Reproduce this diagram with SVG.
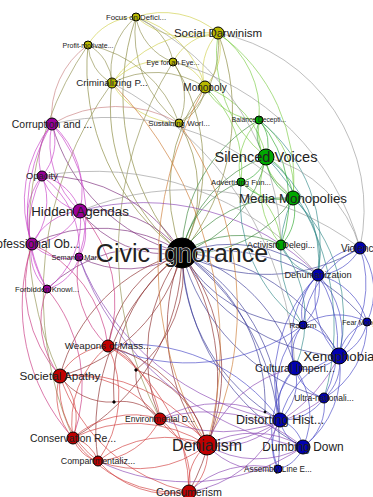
<svg xmlns="http://www.w3.org/2000/svg" width="373" height="497" viewBox="0 0 373 497">
<style>
#edges path{fill:none;stroke-width:.9;stroke-opacity:.72}
.y{stroke:#cfcf4a}.yo{stroke:#8f8f4f}.g{stroke:#7acc44}.gg{stroke:#2fa82f}.t{stroke:#338a8a}.b{stroke:#4646c6}.p{stroke:#8a46b4}.m{stroke:#c840c8}.mr{stroke:#c8337f}.r{stroke:#d03c3c}.dr{stroke:#973232}.gr{stroke:#9a9a9a}.or{stroke:#cc7a33}.pk{stroke:#c98080}
.hy{stroke:#87873a}.hg{stroke:#3a873a}.hb{stroke:#3a3a98}.hr{stroke:#8a2a2a}.hm{stroke:#7a2a7a}
circle{stroke:#000;stroke-width:1}
.cy{fill:#b8b800}.cm{fill:#990099}.cg{fill:#00a800}.cb{fill:#0000b0}.cr{fill:#c00000}.ck{fill:#000}
text{font-family:"Liberation Sans",Arial,sans-serif;fill:#222;text-anchor:middle}
</style>
<g id="edges">
<path class="hy" d="M182 253A240 240 0 0 1 136 17"/>
<path class="hy" d="M182 253A222 222 0 0 0 218 33"/>
<path class="hy" d="M182 253A228 228 0 0 1 88 45"/>
<path class="hy" d="M182 253A192 192 0 0 0 173 62"/>
<path class="hy" d="M182 253A184 184 0 0 1 112 83"/>
<path class="hy" d="M182 253A168 168 0 0 1 205 87"/>
<path class="hy" d="M182 253A130 130 0 0 0 179 123"/>
<path class="hm" d="M182 253A183 183 0 0 1 52 124"/>
<path class="hm" d="M182 253A160 160 0 0 0 42 176"/>
<path class="hm" d="M182 253A110 110 0 0 1 80 211"/>
<path class="hm" d="M80 211A110 110 0 0 1 182 253"/>
<path class="hm" d="M182 253A150 150 0 0 0 32 244"/>
<path class="hm" d="M182 253A103 103 0 0 1 79 257"/>
<path class="hm" d="M182 253A140 140 0 0 0 47 289"/>
<path class="hg" d="M182 253A154 154 0 0 1 259 120"/>
<path class="hg" d="M182 253A128 128 0 0 0 266 157"/>
<path class="hg" d="M266 157A128 128 0 0 0 182 253"/>
<path class="hg" d="M182 253A92 92 0 0 1 241 182"/>
<path class="hg" d="M182 253A124 124 0 0 0 293 198"/>
<path class="hg" d="M293 198A124 124 0 0 0 182 253"/>
<path class="hg" d="M182 253A99 99 0 0 1 281 245"/>
<path class="hb" d="M182 253A178 178 0 0 0 360 248"/>
<path class="hb" d="M182 253A139 139 0 0 1 318 275"/>
<path class="hb" d="M182 253A141 141 0 0 0 303 325"/>
<path class="hb" d="M182 253A197 197 0 0 1 367 322"/>
<path class="hb" d="M182 253A188 188 0 0 0 339 356"/>
<path class="hb" d="M339 356A188 188 0 0 0 182 253"/>
<path class="hb" d="M182 253A161 161 0 0 1 295 368"/>
<path class="hb" d="M182 253A203 203 0 0 0 324 398"/>
<path class="hb" d="M182 253A194 194 0 0 1 280 420"/>
<path class="hb" d="M280 420A194 194 0 0 1 182 253"/>
<path class="hb" d="M182 253A229 229 0 0 0 303 447"/>
<path class="hb" d="M182 253A236 236 0 0 1 278 469"/>
<path class="hb" d="M182 253A180 180 0 0 1 265 412"/>
<path class="hr" d="M182 253A119 119 0 0 0 108 346"/>
<path class="hr" d="M182 253A173 173 0 0 1 60 376"/>
<path class="hr" d="M60 376A173 173 0 0 1 182 253"/>
<path class="hr" d="M182 253A167 167 0 0 0 160 419"/>
<path class="hr" d="M182 253A215 215 0 0 1 73 438"/>
<path class="hr" d="M182 253A194 194 0 0 0 207 445"/>
<path class="hr" d="M182 253A194 194 0 0 1 207 445"/>
<path class="hr" d="M182 253A224 224 0 0 0 98 461"/>
<path class="hr" d="M182 253A239 239 0 0 1 189 492"/>
<path class="hr" d="M182 253A126 126 0 0 1 136 370"/>
<path class="hr" d="M182 253A164 164 0 0 0 114 402"/>
<path class="y" d="M136 17A84 84 0 0 1 218 33"/>
<path class="y" d="M218 33A84 84 0 0 1 136 17"/>
<path class="y" d="M136 17A56 56 0 0 0 88 45"/>
<path class="yo" d="M136 17A70 70 0 0 0 112 83"/>
<path class="yo" d="M136 17A58 58 0 0 1 173 62"/>
<path class="yo" d="M173 62A58 58 0 0 1 136 17"/>
<path class="y" d="M136 17A98 98 0 0 1 205 87"/>
<path class="yo" d="M136 17A114 114 0 0 0 179 123"/>
<path class="y" d="M218 33A54 54 0 0 0 173 62"/>
<path class="y" d="M218 33A56 56 0 0 1 205 87"/>
<path class="y" d="M205 87A56 56 0 0 1 218 33"/>
<path class="y" d="M218 33A117 117 0 0 0 112 83"/>
<path class="yo" d="M218 33A98 98 0 0 1 179 123"/>
<path class="yo" d="M88 45A45 45 0 0 1 112 83"/>
<path class="yo" d="M112 83A45 45 0 0 1 88 45"/>
<path class="yo" d="M88 45A120 120 0 0 1 179 123"/>
<path class="pk" d="M88 45A87 87 0 0 0 52 124"/>
<path class="y" d="M173 62A41 41 0 0 1 205 87"/>
<path class="y" d="M173 62A65 65 0 0 0 112 83"/>
<path class="yo" d="M173 62A61 61 0 0 1 179 123"/>
<path class="y" d="M112 83A78 78 0 0 0 179 123"/>
<path class="yo" d="M112 83A93 93 0 0 1 205 87"/>
<path class="yo" d="M205 87A44 44 0 0 1 179 123"/>
<path class="or" d="M112 83A374 374 0 0 1 207 445"/>
<path class="or" d="M179 123A323 323 0 0 1 207 445"/>
<path class="or" d="M205 87A358 358 0 0 0 207 445"/>
<path class="gr" d="M112 83A339 339 0 0 1 295 368"/>
<path class="gr" d="M173 62A264 264 0 0 1 360 248"/>
<path class="gr" d="M218 33A180 180 0 0 1 360 248"/>
<path class="g" d="M218 33A96 96 0 0 1 259 120"/>
<path class="g" d="M218 33A133 133 0 0 0 266 157"/>
<path class="g" d="M218 33A181 181 0 0 1 293 198"/>
<path class="g" d="M205 87A93 93 0 0 1 266 157"/>
<path class="g" d="M205 87A63 63 0 0 0 259 120"/>
<path class="g" d="M205 87A110 110 0 0 1 241 182"/>
<path class="pk" d="M52 124A127 127 0 0 1 179 123"/>
<path class="yo" d="M112 83A360 360 0 0 0 73 438"/>
<path class="yo" d="M173 62A357 357 0 0 0 160 419"/>
<path class="yo" d="M88 45A335 335 0 0 0 60 376"/>
<path class="gr" d="M136 17A260 260 0 0 1 281 245"/>
<path class="m" d="M52 124A53 53 0 0 1 42 176"/>
<path class="m" d="M42 176A53 53 0 0 1 52 124"/>
<path class="m" d="M52 124A91 91 0 0 1 80 211"/>
<path class="m" d="M80 211A91 91 0 0 1 52 124"/>
<path class="m" d="M52 124A122 122 0 0 0 32 244"/>
<path class="m" d="M52 124A136 136 0 0 1 79 257"/>
<path class="m" d="M52 124A165 165 0 0 0 47 289"/>
<path class="m" d="M42 176A52 52 0 0 1 80 211"/>
<path class="m" d="M80 211A52 52 0 0 1 42 176"/>
<path class="m" d="M42 176A69 69 0 0 0 32 244"/>
<path class="m" d="M32 244A69 69 0 0 0 42 176"/>
<path class="m" d="M42 176A89 89 0 0 1 79 257"/>
<path class="m" d="M42 176A113 113 0 0 0 47 289"/>
<path class="m" d="M80 211A58 58 0 0 1 32 244"/>
<path class="m" d="M32 244A58 58 0 0 1 80 211"/>
<path class="m" d="M80 211A46 46 0 0 1 79 257"/>
<path class="m" d="M80 211A85 85 0 0 1 47 289"/>
<path class="m" d="M32 244A49 49 0 0 0 79 257"/>
<path class="m" d="M32 244A47 47 0 0 0 47 289"/>
<path class="m" d="M79 257A45 45 0 0 1 47 289"/>
<path class="mr" d="M32 244A135 135 0 0 0 60 376"/>
<path class="mr" d="M32 244A198 198 0 0 0 73 438"/>
<path class="mr" d="M47 289A151 151 0 0 1 73 438"/>
<path class="mr" d="M80 211A138 138 0 0 1 108 346"/>
<path class="mr" d="M79 257A95 95 0 0 0 108 346"/>
<path class="mr" d="M32 244A128 128 0 0 1 108 346"/>
<path class="mr" d="M47 289A88 88 0 0 0 60 376"/>
<path class="p" d="M80 211A246 246 0 0 1 318 275"/>
<path class="gr" d="M42 176A293 293 0 0 1 318 275"/>
<path class="p" d="M79 257A259 259 0 0 0 280 420"/>
<path class="gr" d="M80 211A283 283 0 0 1 360 248"/>
<path class="p" d="M79 257A290 290 0 0 0 303 447"/>
<path class="gr" d="M52 124A250 250 0 0 1 293 198"/>
<path class="gg" d="M259 120A37 37 0 0 1 266 157"/>
<path class="gg" d="M266 157A37 37 0 0 1 259 120"/>
<path class="g" d="M259 120A65 65 0 0 0 241 182"/>
<path class="g" d="M259 120A85 85 0 0 1 293 198"/>
<path class="g" d="M293 198A85 85 0 0 1 259 120"/>
<path class="gg" d="M259 120A125 125 0 0 1 281 245"/>
<path class="gg" d="M266 157A35 35 0 0 1 241 182"/>
<path class="gg" d="M266 157A49 49 0 0 1 293 198"/>
<path class="gg" d="M293 198A49 49 0 0 1 266 157"/>
<path class="g" d="M266 157A89 89 0 0 0 281 245"/>
<path class="gg" d="M241 182A54 54 0 0 0 293 198"/>
<path class="g" d="M241 182A75 75 0 0 1 281 245"/>
<path class="gg" d="M293 198A49 49 0 0 1 281 245"/>
<path class="t" d="M293 198A81 81 0 0 1 318 275"/>
<path class="t" d="M266 157A129 129 0 0 1 318 275"/>
<path class="t" d="M293 198A127 127 0 0 0 303 325"/>
<path class="t" d="M266 157A248 248 0 0 1 324 398"/>
<path class="t" d="M293 198A165 165 0 0 1 339 356"/>
<path class="t" d="M281 245A47 47 0 0 0 318 275"/>
<path class="t" d="M281 245A124 124 0 0 1 295 368"/>
<path class="t" d="M259 120A162 162 0 0 1 318 275"/>
<path class="t" d="M241 182A156 156 0 0 0 303 325"/>
<path class="gr" d="M266 157A131 131 0 0 1 360 248"/>
<path class="b" d="M360 248A50 50 0 0 0 318 275"/>
<path class="b" d="M318 275A50 50 0 0 0 360 248"/>
<path class="b" d="M360 248A74 74 0 0 1 367 322"/>
<path class="b" d="M360 248A110 110 0 0 1 339 356"/>
<path class="b" d="M360 248A96 96 0 0 0 303 325"/>
<path class="b" d="M318 275A52 52 0 0 0 303 325"/>
<path class="b" d="M303 325A52 52 0 0 0 318 275"/>
<path class="b" d="M318 275A66 66 0 0 1 367 322"/>
<path class="b" d="M318 275A83 83 0 0 1 339 356"/>
<path class="b" d="M339 356A83 83 0 0 1 318 275"/>
<path class="b" d="M318 275A95 95 0 0 0 295 368"/>
<path class="b" d="M318 275A149 149 0 0 0 280 420"/>
<path class="b" d="M318 275A123 123 0 0 1 324 398"/>
<path class="b" d="M303 325A48 48 0 0 1 339 356"/>
<path class="b" d="M303 325A44 44 0 0 0 295 368"/>
<path class="b" d="M303 325A64 64 0 0 1 367 322"/>
<path class="b" d="M303 325A98 98 0 0 0 280 420"/>
<path class="b" d="M367 322A45 45 0 0 1 339 356"/>
<path class="b" d="M339 356A45 45 0 0 1 367 322"/>
<path class="b" d="M367 322A87 87 0 0 1 324 398"/>
<path class="b" d="M339 356A46 46 0 0 1 295 368"/>
<path class="b" d="M339 356A45 45 0 0 1 324 398"/>
<path class="b" d="M339 356A95 95 0 0 1 303 447"/>
<path class="b" d="M339 356A88 88 0 0 0 280 420"/>
<path class="b" d="M295 368A42 42 0 0 0 324 398"/>
<path class="b" d="M295 368A54 54 0 0 0 280 420"/>
<path class="b" d="M280 420A54 54 0 0 0 295 368"/>
<path class="b" d="M295 368A80 80 0 0 1 303 447"/>
<path class="b" d="M324 398A50 50 0 0 1 280 420"/>
<path class="b" d="M324 398A52 52 0 0 1 303 447"/>
<path class="b" d="M280 420A35 35 0 0 0 303 447"/>
<path class="b" d="M303 447A35 35 0 0 0 280 420"/>
<path class="b" d="M280 420A49 49 0 0 0 278 469"/>
<path class="b" d="M303 447A34 34 0 0 1 278 469"/>
<path class="b" d="M295 368A103 103 0 0 0 278 469"/>
<path class="p" d="M280 420A80 80 0 0 1 207 445"/>
<path class="p" d="M303 447A96 96 0 0 0 207 445"/>
<path class="p" d="M207 445A96 96 0 0 0 303 447"/>
<path class="p" d="M303 447A150 150 0 0 0 160 419"/>
<path class="p" d="M280 420A120 120 0 0 0 160 419"/>
<path class="p" d="M278 469A77 77 0 0 1 207 445"/>
<path class="p" d="M295 368A118 118 0 0 0 207 445"/>
<path class="p" d="M303 447A206 206 0 0 1 98 461"/>
<path class="b" d="M280 420A182 182 0 0 0 108 346"/>
<path class="p" d="M339 356A160 160 0 0 1 207 445"/>
<path class="p" d="M324 398A166 166 0 0 1 160 419"/>
<path class="p" d="M280 420A118 118 0 0 1 189 492"/>
<path class="b" d="M303 325A195 195 0 0 1 108 346"/>
<path class="p" d="M278 469A92 92 0 0 0 189 492"/>
<path class="r" d="M108 346A58 58 0 0 0 60 376"/>
<path class="r" d="M108 346A93 93 0 0 1 160 419"/>
<path class="r" d="M108 346A98 98 0 0 0 73 438"/>
<path class="dr" d="M108 346A141 141 0 0 1 207 445"/>
<path class="r" d="M108 346A115 115 0 0 1 98 461"/>
<path class="dr" d="M108 346A38 38 0 0 1 136 370"/>
<path class="r" d="M60 376A111 111 0 0 1 160 419"/>
<path class="r" d="M60 376A63 63 0 0 1 73 438"/>
<path class="r" d="M73 438A63 63 0 0 1 60 376"/>
<path class="r" d="M60 376A155 155 0 0 1 207 445"/>
<path class="r" d="M60 376A94 94 0 0 0 98 461"/>
<path class="r" d="M60 376A177 177 0 0 0 189 492"/>
<path class="dr" d="M60 376A61 61 0 0 0 114 402"/>
<path class="r" d="M160 419A53 53 0 0 1 207 445"/>
<path class="r" d="M207 445A53 53 0 0 1 160 419"/>
<path class="r" d="M160 419A89 89 0 0 0 73 438"/>
<path class="r" d="M160 419A77 77 0 0 1 189 492"/>
<path class="r" d="M160 419A74 74 0 0 1 98 461"/>
<path class="r" d="M73 438A35 35 0 0 1 98 461"/>
<path class="r" d="M98 461A35 35 0 0 1 73 438"/>
<path class="r" d="M73 438A134 134 0 0 1 207 445"/>
<path class="r" d="M98 461A111 111 0 0 1 207 445"/>
<path class="r" d="M207 445A111 111 0 0 1 98 461"/>
<path class="r" d="M98 461A97 97 0 0 0 189 492"/>
<path class="r" d="M207 445A51 51 0 0 1 189 492"/>
<path class="r" d="M189 492A51 51 0 0 1 207 445"/>
<path class="r" d="M73 438A127 127 0 0 0 189 492"/>
<path class="dr" d="M136 370A101 101 0 0 1 207 445"/>
<path class="dr" d="M114 402A50 50 0 0 1 160 419"/>
<path class="dr" d="M136 370A53 53 0 0 0 160 419"/>
<path class="r" d="M108 346A174 174 0 0 1 189 492"/>
</g>
<g id="n-focus"><circle class="cy" cx="136" cy="17" r="4"/><text x="136" y="19.7" font-size="7.8">Focus on Defici...</text></g>
<g id="n-socialdarwinism"><circle class="cy" cx="218" cy="33" r="6"/><text x="218" y="37" font-size="11.5">Social Darwinism</text></g>
<g id="n-profit"><circle class="cy" cx="88" cy="45" r="4"/><text x="88" y="47.5" font-size="7">Profit-motivate...</text></g>
<g id="n-eye"><circle class="cy" cx="173" cy="62" r="4"/><text x="173" y="64.5" font-size="7.2">Eye for an Eye...</text></g>
<g id="n-criminalizing"><circle class="cy" cx="112" cy="83" r="5"/><text x="112" y="86.4" font-size="9.7">Criminalizing P...</text></g>
<g id="n-monopoly"><circle class="cy" cx="205" cy="87" r="6"/><text x="205" y="90.5" font-size="10">Monopoly</text></g>
<g id="n-sustaining"><circle class="cy" cx="179" cy="123" r="4"/><text x="179" y="125.8" font-size="7.9">Sustaining Worl...</text></g>
<g id="n-corruption"><circle class="cm" cx="52" cy="124" r="6"/><text x="52" y="127.6" font-size="10.4">Corruption and ...</text></g>
<g id="n-opacity"><circle class="cm" cx="42" cy="176" r="5"/><text x="42" y="179.3" font-size="9.4">Opacity</text></g>
<g id="n-hidden"><circle class="cm" cx="80" cy="211" r="7"/><text x="80" y="215.7" font-size="13.3">Hidden Agendas</text></g>
<g id="n-professional"><circle class="cm" cx="32" cy="244" r="6"/><text x="32" y="248.2" font-size="12">Professional Ob...</text></g>
<g id="n-semantic"><circle class="cm" cx="79" cy="257" r="4"/><text x="79" y="259.6" font-size="7.4">Semantic Mani...</text></g>
<g id="n-forbidden"><circle class="cm" cx="47" cy="289" r="4"/><text x="47" y="291.7" font-size="7.7">Forbidden Knowl...</text></g>
<g id="n-balance"><circle class="cg" cx="259" cy="120" r="4"/><text x="259" y="122.3" font-size="6.7">Balance Decepti...</text></g>
<g id="n-silenced"><circle class="cg" cx="266" cy="157" r="8"/><text x="266" y="162" font-size="14.6">Silenced Voices</text></g>
<g id="n-advertising"><circle class="cg" cx="241" cy="182" r="4"/><text x="241" y="184.7" font-size="7.7">Advertising Fun...</text></g>
<g id="n-media"><circle class="cg" cx="293" cy="198" r="7"/><text x="293" y="202.7" font-size="13.3">Media Monopolies</text></g>
<g id="n-activism"><circle class="cg" cx="281" cy="245" r="5"/><text x="281" y="248" font-size="8.9">Activism Delegi...</text></g>
<g id="n-violence"><circle class="cb" cx="360" cy="248" r="6"/><text x="360" y="251.5" font-size="10">Violence</text></g>
<g id="n-dehumanization"><circle class="cb" cx="318" cy="275" r="6"/><text x="318" y="278.3" font-size="9.3">Dehumanization</text></g>
<g id="n-racism"><circle class="cb" cx="303" cy="325" r="4"/><text x="303" y="327.8" font-size="8.1">Racism</text></g>
<g id="n-fear"><circle class="cb" cx="367" cy="322" r="4"/><text x="367" y="324.5" font-size="7">Fear Mongering</text></g>
<g id="n-xenophobia"><circle class="cb" cx="339" cy="356" r="8"/><text x="339" y="360.7" font-size="13.3">Xenophobia</text></g>
<g id="n-cultural"><circle class="cb" cx="295" cy="368" r="7"/><text x="295" y="371.8" font-size="10.9">Cultural Imperi...</text></g>
<g id="n-ultra"><circle class="cb" cx="324" cy="398" r="5"/><text x="324" y="401" font-size="8.5">Ultra-nationali...</text></g>
<g id="n-distorting"><circle class="cb" cx="280" cy="420" r="7"/><text x="280" y="424.4" font-size="12.5">Distorting Hist...</text></g>
<g id="n-dumbing"><circle class="cb" cx="303" cy="447" r="7"/><text x="303" y="451.2" font-size="11.9">Dumbing Down</text></g>
<g id="n-assembly"><circle class="cb" cx="278" cy="469" r="4"/><text x="278" y="471.9" font-size="8.2">Assembly Line E...</text></g>
<g id="n-small3"><circle class="ck" cx="265" cy="412" r="1"/></g>
<g id="n-weapons"><circle class="cr" cx="108" cy="346" r="6"/><text x="108" y="349.4" font-size="9.8">Weapons of Mass...</text></g>
<g id="n-societal"><circle class="cr" cx="60" cy="376" r="7"/><text x="60" y="380.1" font-size="11.75">Societal Apathy</text></g>
<g id="n-small1"><circle class="ck" cx="136" cy="370" r="1.2"/></g>
<g id="n-small2"><circle class="ck" cx="114" cy="402" r="1.2"/></g>
<g id="n-environmental"><circle class="cr" cx="160" cy="419" r="6"/><text x="160" y="422" font-size="8.5">Environmental D...</text></g>
<g id="n-conservation"><circle class="cr" cx="73" cy="438" r="6"/><text x="73" y="441.6" font-size="10.4">Conservation Re...</text></g>
<g id="n-denialism"><circle class="cr" cx="207" cy="445" r="10"/><text x="207" y="450.6" font-size="16">Denialism</text></g>
<g id="n-compartmentaliz"><circle class="cr" cx="98" cy="461" r="5"/><text x="98" y="464.1" font-size="8.9">Compartmentaliz...</text></g>
<g id="n-consumerism"><circle class="cr" cx="189" cy="492" r="7"/><text x="189" y="495.7" font-size="10.7">Consumerism</text></g>
<g id="n-civic"><circle class="ck" cx="182" cy="253" r="15"/><text x="182" y="262" font-size="25" stroke="#fff" stroke-width="1" paint-order="stroke" fill="#000">Civic Ignorance</text></g>
</svg>
